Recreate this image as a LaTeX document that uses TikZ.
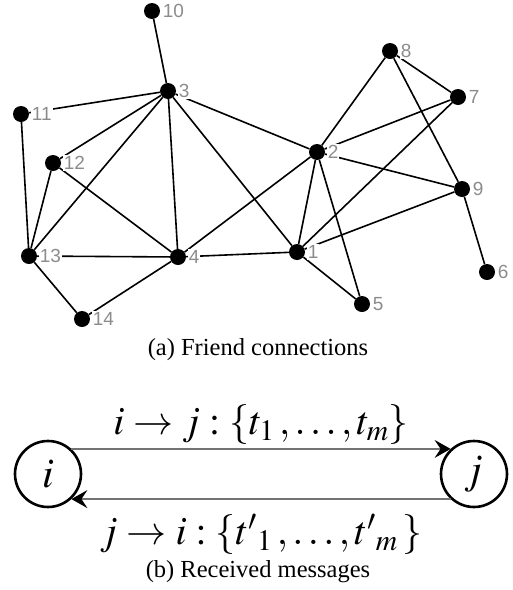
\documentclass[tikz,border=0pt]{standalone}
\usepackage{mathptmx}
\usepackage{fontspec}
\setmainfont{Liberation Serif}
\newfontfamily\labfont{Liberation Sans}
\usepackage{tikz}
\usetikzlibrary{arrows.meta,positioning}

\begin{document}
\begin{tikzpicture}[x=1pt, y=-1pt,
  node distance=1.5pt,
  dot/.style={circle, fill=black, inner sep=0pt, minimum size=16pt},
  lab/.style={font=\labfont\fontsize{19}{20}\selectfont, text=black!45, fill=white, inner sep=1pt},
  link/.style={line width=1.6pt},
  agent/.style={draw, circle, line width=2.6pt, minimum size=66pt, inner sep=0pt, font=\fontsize{42}{44}\selectfont},
  msg/.style={draw=black!55, line width=1.3pt, -{Stealth[length=16pt, width=18pt, inset=6pt, color=black]}},
  captxt/.style={font=\fontsize{24.5}{28}\selectfont},
  bigmath/.style={font=\fontsize{40}{44}\selectfont}]
\useasboundingbox (0,0) rectangle (513,590);
% friend graph
\node[dot] (n1) at (297,252) {};
\node[dot] (n2) at (317,152) {};
\node[dot] (n3) at (168,91) {};
\node[dot] (n4) at (178,257) {};
\node[dot] (n5) at (362,304) {};
\node[dot] (n6) at (487,272) {};
\node[dot] (n7) at (458,97) {};
\node[dot] (n8) at (390,51) {};
\node[dot] (n9) at (462,189) {};
\node[dot] (n10) at (152,11) {};
\node[dot] (n11) at (21,114) {};
\node[dot] (n12) at (53,163) {};
\node[dot] (n13) at (29,256) {};
\node[dot] (n14) at (82,319) {};
\draw[link] (n10) -- (n3);
\draw[link] (n3) -- (n11);
\draw[link] (n3) -- (n12);
\draw[link] (n3) -- (n13);
\draw[link] (n3) -- (n4);
\draw[link] (n3) -- (n1);
\draw[link] (n3) -- (n2);
\draw[link] (n11) -- (n13);
\draw[link] (n12) -- (n13);
\draw[link] (n12) -- (n4);
\draw[link] (n13) -- (n4);
\draw[link] (n13) -- (n14);
\draw[link] (n14) -- (n4);
\draw[link] (n4) -- (n1);
\draw[link] (n4) -- (n2);
\draw[link] (n2) -- (n8);
\draw[link] (n2) -- (n7);
\draw[link] (n2) -- (n9);
\draw[link] (n2) -- (n1);
\draw[link] (n2) -- (n5);
\draw[link] (n1) -- (n5);
\draw[link] (n1) -- (n7);
\draw[link] (n1) -- (n9);
\draw[link] (n8) -- (n7);
\draw[link] (n8) -- (n9);
\draw[link] (n9) -- (n6);
\node[lab, right=of n1] (l1) {1};
\node[lab, right=of n2] (l2) {2};
\node[lab, right=of n3] (l3) {3};
\node[lab, right=of n4] (l4) {4};
\node[lab, right=of n5] (l5) {5};
\node[lab, right=of n6] (l6) {6};
\node[lab, right=of n7] (l7) {7};
\node[lab, right=of n8] (l8) {8};
\node[lab, right=of n9] (l9) {9};
\node[lab, right=of n10] (l10) {10};
\node[lab, right=of n11] (l11) {11};
\node[lab, right=of n12] (l12) {12};
\node[lab, right=of n13] (l13) {13};
\node[lab, right=of n14] (l14) {14};
\node[captxt] (capa) at (258,350) {(a) Friend connections};
% received messages
\node[agent] (i) at (48,474) {$i$};
\node[agent] (j) at (474,474) {$j$};
\draw[msg] (i.47) -- node[bigmath, above=0pt] (top) {$i \rightarrow j : \{t_1 \,, \ldots , t_m\}$} (j.133);
\draw[msg] (j.227) -- node[bigmath, below=11pt] (bot) {$j \rightarrow i : \{{t'}_1 \,, \ldots , {t'}_m\,\}$} (i.313);
\node[captxt] (capb) at (258,572) {(b) Received messages};
\end{tikzpicture}
\end{document}
